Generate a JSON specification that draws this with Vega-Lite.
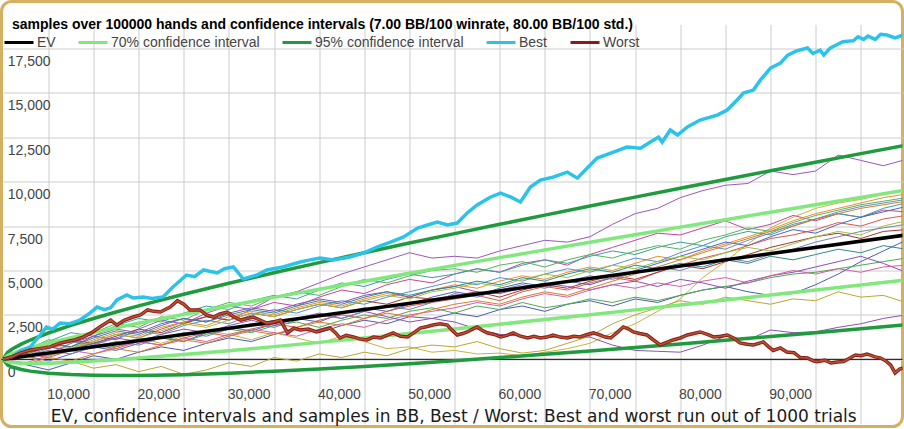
{
"$schema":"https://vega.github.io/schema/vega-lite/v6.json",
"width":901,"height":425,"autosize":"none",
"padding":{"left":1.5,"top":1.5,"right":1.5,"bottom":1.5},
"background":"white",
"config":{"view":{"stroke":"#d4b060","strokeWidth":3,"cornerRadius":10,"fill":"white"}},
"title":{"text":"samples over 100000 hands and confidence intervals (7.00 BB/100 winrate, 80.00 BB/100 std.)","anchor":"start","frame":"group","font":"Liberation Sans","fontSize":14,"fontWeight":"bold","color":"#000000","offset":0,"dx":10.5,"dy":41,"baseline":"alphabetic"},
"datasets":{
"samples":[
{"s":"L1","n":0,"v":0},{"s":"L1","n":2500,"v":500},{"s":"L1","n":5000,"v":300},{"s":"L1","n":7500,"v":900},{"s":"L1","n":10000,"v":1300},{"s":"L1","n":12500,"v":1100},{"s":"L1","n":15000,"v":1700},{"s":"L1","n":17500,"v":2200},{"s":"L1","n":20000,"v":2000},{"s":"L1","n":22500,"v":2600},{"s":"L1","n":25000,"v":3000},{"s":"L1","n":27500,"v":2800},{"s":"L1","n":30000,"v":3500},{"s":"L1","n":32500,"v":3800},{"s":"L1","n":35000,"v":4300},{"s":"L1","n":37500,"v":4800},{"s":"L1","n":40000,"v":5200},{"s":"L1","n":42500,"v":5600},{"s":"L1","n":45000,"v":6000},{"s":"L1","n":47500,"v":5700},{"s":"L1","n":50000,"v":5800},{"s":"L1","n":52500,"v":5700},{"s":"L1","n":55000,"v":6100},{"s":"L1","n":57500,"v":6400},{"s":"L1","n":60000,"v":6700},{"s":"L1","n":62500,"v":6600},{"s":"L1","n":65000,"v":6900},{"s":"L1","n":67500,"v":7600},{"s":"L1","n":70000,"v":8200},{"s":"L1","n":72500,"v":8500},{"s":"L1","n":75000,"v":9100},{"s":"L1","n":77500,"v":9500},{"s":"L1","n":80000,"v":9800},{"s":"L1","n":82500,"v":9900},{"s":"L1","n":85000,"v":10600},{"s":"L1","n":87500,"v":10400},{"s":"L1","n":90000,"v":10600},{"s":"L1","n":92500,"v":11500},{"s":"L1","n":95000,"v":11200},{"s":"L1","n":97500,"v":10900},{"s":"L1","n":100000,"v":11250},
{"s":"L2","n":0,"v":0},{"s":"L2","n":2500,"v":300},{"s":"L2","n":5000,"v":700},{"s":"L2","n":7500,"v":500},{"s":"L2","n":10000,"v":1000},{"s":"L2","n":12500,"v":1400},{"s":"L2","n":15000,"v":1200},{"s":"L2","n":17500,"v":1700},{"s":"L2","n":20000,"v":2100},{"s":"L2","n":22500,"v":2400},{"s":"L2","n":25000,"v":2200},{"s":"L2","n":27500,"v":2800},{"s":"L2","n":30000,"v":3200},{"s":"L2","n":32500,"v":3000},{"s":"L2","n":35000,"v":3500},{"s":"L2","n":37500,"v":3900},{"s":"L2","n":40000,"v":3700},{"s":"L2","n":42500,"v":4200},{"s":"L2","n":45000,"v":4500},{"s":"L2","n":47500,"v":4300},{"s":"L2","n":50000,"v":4800},{"s":"L2","n":52500,"v":5100},{"s":"L2","n":55000,"v":4900},{"s":"L2","n":57500,"v":5400},{"s":"L2","n":60000,"v":5600},{"s":"L2","n":62500,"v":5300},{"s":"L2","n":65000,"v":5900},{"s":"L2","n":67500,"v":6300},{"s":"L2","n":70000,"v":6700},{"s":"L2","n":72500,"v":7100},{"s":"L2","n":75000,"v":7000},{"s":"L2","n":77500,"v":7400},{"s":"L2","n":80000,"v":7800},{"s":"L2","n":82500,"v":7300},{"s":"L2","n":85000,"v":7600},{"s":"L2","n":87500,"v":8100},{"s":"L2","n":90000,"v":7800},{"s":"L2","n":92500,"v":8200},{"s":"L2","n":95000,"v":8000},{"s":"L2","n":97500,"v":8400},{"s":"L2","n":100000,"v":8300},
{"s":"L3","n":0,"v":0},{"s":"L3","n":2500,"v":400},{"s":"L3","n":5000,"v":200},{"s":"L3","n":7500,"v":700},{"s":"L3","n":10000,"v":1000},{"s":"L3","n":12500,"v":800},{"s":"L3","n":15000,"v":1200},{"s":"L3","n":17500,"v":900},{"s":"L3","n":20000,"v":1300},{"s":"L3","n":22500,"v":1600},{"s":"L3","n":25000,"v":1400},{"s":"L3","n":27500,"v":1100},{"s":"L3","n":30000,"v":1500},{"s":"L3","n":32500,"v":1200},{"s":"L3","n":35000,"v":900},{"s":"L3","n":37500,"v":1300},{"s":"L3","n":40000,"v":1000},{"s":"L3","n":42500,"v":600},{"s":"L3","n":45000,"v":700},{"s":"L3","n":47500,"v":400},{"s":"L3","n":50000,"v":500},{"s":"L3","n":52500,"v":300},{"s":"L3","n":55000,"v":350},{"s":"L3","n":57500,"v":200},{"s":"L3","n":60000,"v":400},{"s":"L3","n":62500,"v":600},{"s":"L3","n":65000,"v":900},{"s":"L3","n":67500,"v":1500},{"s":"L3","n":70000,"v":2000},{"s":"L3","n":72500,"v":2700},{"s":"L3","n":75000,"v":3400},{"s":"L3","n":77500,"v":4600},{"s":"L3","n":80000,"v":5500},{"s":"L3","n":82500,"v":6500},{"s":"L3","n":85000,"v":7400},{"s":"L3","n":87500,"v":8000},{"s":"L3","n":90000,"v":8500},{"s":"L3","n":92500,"v":8800},{"s":"L3","n":95000,"v":9000},{"s":"L3","n":97500,"v":9300},{"s":"L3","n":100000,"v":9500},
{"s":"L4","n":0,"v":0},{"s":"L4","n":2500,"v":400},{"s":"L4","n":5000,"v":800},{"s":"L4","n":7500,"v":600},{"s":"L4","n":10000,"v":1100},{"s":"L4","n":12500,"v":1500},{"s":"L4","n":15000,"v":1300},{"s":"L4","n":17500,"v":1800},{"s":"L4","n":20000,"v":2100},{"s":"L4","n":22500,"v":1900},{"s":"L4","n":25000,"v":2400},{"s":"L4","n":27500,"v":2700},{"s":"L4","n":30000,"v":2500},{"s":"L4","n":32500,"v":2900},{"s":"L4","n":35000,"v":3200},{"s":"L4","n":37500,"v":3000},{"s":"L4","n":40000,"v":3400},{"s":"L4","n":42500,"v":3700},{"s":"L4","n":45000,"v":3500},{"s":"L4","n":47500,"v":3900},{"s":"L4","n":50000,"v":4200},{"s":"L4","n":52500,"v":4000},{"s":"L4","n":55000,"v":4400},{"s":"L4","n":57500,"v":4700},{"s":"L4","n":60000,"v":4500},{"s":"L4","n":62500,"v":4900},{"s":"L4","n":65000,"v":5200},{"s":"L4","n":67500,"v":5000},{"s":"L4","n":70000,"v":5400},{"s":"L4","n":72500,"v":5800},{"s":"L4","n":75000,"v":5600},{"s":"L4","n":77500,"v":6100},{"s":"L4","n":80000,"v":6500},{"s":"L4","n":82500,"v":6900},{"s":"L4","n":85000,"v":7300},{"s":"L4","n":87500,"v":7800},{"s":"L4","n":90000,"v":8200},{"s":"L4","n":92500,"v":8500},{"s":"L4","n":95000,"v":8800},{"s":"L4","n":97500,"v":9100},{"s":"L4","n":100000,"v":9300},
{"s":"L5","n":0,"v":0},{"s":"L5","n":2500,"v":600},{"s":"L5","n":5000,"v":1000},{"s":"L5","n":7500,"v":1500},{"s":"L5","n":10000,"v":1300},{"s":"L5","n":12500,"v":1900},{"s":"L5","n":15000,"v":2300},{"s":"L5","n":17500,"v":2100},{"s":"L5","n":20000,"v":2600},{"s":"L5","n":22500,"v":3000},{"s":"L5","n":25000,"v":2800},{"s":"L5","n":27500,"v":3300},{"s":"L5","n":30000,"v":3600},{"s":"L5","n":32500,"v":3400},{"s":"L5","n":35000,"v":3900},{"s":"L5","n":37500,"v":4300},{"s":"L5","n":40000,"v":4100},{"s":"L5","n":42500,"v":4500},{"s":"L5","n":45000,"v":4800},{"s":"L5","n":47500,"v":4600},{"s":"L5","n":50000,"v":4800},{"s":"L5","n":52500,"v":5100},{"s":"L5","n":55000,"v":4900},{"s":"L5","n":57500,"v":5300},{"s":"L5","n":60000,"v":5600},{"s":"L5","n":62500,"v":5400},{"s":"L5","n":65000,"v":5800},{"s":"L5","n":67500,"v":6100},{"s":"L5","n":70000,"v":5900},{"s":"L5","n":72500,"v":6300},{"s":"L5","n":75000,"v":6600},{"s":"L5","n":77500,"v":6400},{"s":"L5","n":80000,"v":6900},{"s":"L5","n":82500,"v":7200},{"s":"L5","n":85000,"v":7000},{"s":"L5","n":87500,"v":7500},{"s":"L5","n":90000,"v":7900},{"s":"L5","n":92500,"v":8200},{"s":"L5","n":95000,"v":8000},{"s":"L5","n":97500,"v":8500},{"s":"L5","n":100000,"v":8800},
{"s":"L6","n":0,"v":0},{"s":"L6","n":2500,"v":200},{"s":"L6","n":5000,"v":-100},{"s":"L6","n":7500,"v":300},{"s":"L6","n":10000,"v":700},{"s":"L6","n":12500,"v":500},{"s":"L6","n":15000,"v":900},{"s":"L6","n":17500,"v":1200},{"s":"L6","n":20000,"v":1000},{"s":"L6","n":22500,"v":1500},{"s":"L6","n":25000,"v":1800},{"s":"L6","n":27500,"v":1600},{"s":"L6","n":30000,"v":2000},{"s":"L6","n":32500,"v":2300},{"s":"L6","n":35000,"v":2100},{"s":"L6","n":37500,"v":2600},{"s":"L6","n":40000,"v":2900},{"s":"L6","n":42500,"v":2700},{"s":"L6","n":45000,"v":3100},{"s":"L6","n":47500,"v":3500},{"s":"L6","n":50000,"v":3800},{"s":"L6","n":52500,"v":3600},{"s":"L6","n":55000,"v":4000},{"s":"L6","n":57500,"v":4300},{"s":"L6","n":60000,"v":4100},{"s":"L6","n":62500,"v":4400},{"s":"L6","n":65000,"v":4200},{"s":"L6","n":67500,"v":4600},{"s":"L6","n":70000,"v":5000},{"s":"L6","n":72500,"v":5400},{"s":"L6","n":75000,"v":5800},{"s":"L6","n":77500,"v":6200},{"s":"L6","n":80000,"v":6600},{"s":"L6","n":82500,"v":6400},{"s":"L6","n":85000,"v":6900},{"s":"L6","n":87500,"v":7300},{"s":"L6","n":90000,"v":7100},{"s":"L6","n":92500,"v":7600},{"s":"L6","n":95000,"v":8000},{"s":"L6","n":97500,"v":8300},{"s":"L6","n":100000,"v":8600},
{"s":"L7","n":0,"v":0},{"s":"L7","n":2500,"v":500},{"s":"L7","n":5000,"v":1100},{"s":"L7","n":7500,"v":900},{"s":"L7","n":10000,"v":1500},{"s":"L7","n":12500,"v":2000},{"s":"L7","n":15000,"v":1800},{"s":"L7","n":17500,"v":2400},{"s":"L7","n":20000,"v":2200},{"s":"L7","n":22500,"v":2800},{"s":"L7","n":25000,"v":3200},{"s":"L7","n":27500,"v":3000},{"s":"L7","n":30000,"v":3500},{"s":"L7","n":32500,"v":3800},{"s":"L7","n":35000,"v":3600},{"s":"L7","n":37500,"v":4100},{"s":"L7","n":40000,"v":4500},{"s":"L7","n":42500,"v":4300},{"s":"L7","n":45000,"v":4700},{"s":"L7","n":47500,"v":5000},{"s":"L7","n":50000,"v":5100},{"s":"L7","n":52500,"v":4900},{"s":"L7","n":55000,"v":5300},{"s":"L7","n":57500,"v":5500},{"s":"L7","n":60000,"v":5200},{"s":"L7","n":62500,"v":5600},{"s":"L7","n":65000,"v":5900},{"s":"L7","n":67500,"v":5700},{"s":"L7","n":70000,"v":6100},{"s":"L7","n":72500,"v":6400},{"s":"L7","n":75000,"v":6200},{"s":"L7","n":77500,"v":6700},{"s":"L7","n":80000,"v":7000},{"s":"L7","n":82500,"v":7400},{"s":"L7","n":85000,"v":7200},{"s":"L7","n":87500,"v":7700},{"s":"L7","n":90000,"v":8100},{"s":"L7","n":92500,"v":8400},{"s":"L7","n":95000,"v":8700},{"s":"L7","n":97500,"v":8900},{"s":"L7","n":100000,"v":9100},
{"s":"L8","n":0,"v":0},{"s":"L8","n":2500,"v":300},{"s":"L8","n":5000,"v":100},{"s":"L8","n":7500,"v":500},{"s":"L8","n":10000,"v":800},{"s":"L8","n":12500,"v":600},{"s":"L8","n":15000,"v":1000},{"s":"L8","n":17500,"v":800},{"s":"L8","n":20000,"v":1200},{"s":"L8","n":22500,"v":1500},{"s":"L8","n":25000,"v":1300},{"s":"L8","n":27500,"v":1700},{"s":"L8","n":30000,"v":2000},{"s":"L8","n":32500,"v":1800},{"s":"L8","n":35000,"v":2200},{"s":"L8","n":37500,"v":2500},{"s":"L8","n":40000,"v":2300},{"s":"L8","n":42500,"v":2700},{"s":"L8","n":45000,"v":3000},{"s":"L8","n":47500,"v":3200},{"s":"L8","n":50000,"v":3400},{"s":"L8","n":52500,"v":3600},{"s":"L8","n":55000,"v":3300},{"s":"L8","n":57500,"v":3800},{"s":"L8","n":60000,"v":4100},{"s":"L8","n":62500,"v":3900},{"s":"L8","n":65000,"v":4300},{"s":"L8","n":67500,"v":4600},{"s":"L8","n":70000,"v":4400},{"s":"L8","n":72500,"v":4900},{"s":"L8","n":75000,"v":5300},{"s":"L8","n":77500,"v":5700},{"s":"L8","n":80000,"v":6000},{"s":"L8","n":82500,"v":6400},{"s":"L8","n":85000,"v":6800},{"s":"L8","n":87500,"v":7000},{"s":"L8","n":90000,"v":7300},{"s":"L8","n":92500,"v":7700},{"s":"L8","n":95000,"v":7500},{"s":"L8","n":97500,"v":7900},{"s":"L8","n":100000,"v":8100},
{"s":"L9","n":0,"v":0},{"s":"L9","n":2500,"v":200},{"s":"L9","n":5000,"v":600},{"s":"L9","n":7500,"v":1000},{"s":"L9","n":10000,"v":800},{"s":"L9","n":12500,"v":1200},{"s":"L9","n":15000,"v":1600},{"s":"L9","n":17500,"v":1400},{"s":"L9","n":20000,"v":1900},{"s":"L9","n":22500,"v":2200},{"s":"L9","n":25000,"v":2000},{"s":"L9","n":27500,"v":2500},{"s":"L9","n":30000,"v":2800},{"s":"L9","n":32500,"v":2600},{"s":"L9","n":35000,"v":3000},{"s":"L9","n":37500,"v":3300},{"s":"L9","n":40000,"v":3100},{"s":"L9","n":42500,"v":3500},{"s":"L9","n":45000,"v":3800},{"s":"L9","n":47500,"v":4100},{"s":"L9","n":50000,"v":4400},{"s":"L9","n":52500,"v":4200},{"s":"L9","n":55000,"v":4600},{"s":"L9","n":57500,"v":4400},{"s":"L9","n":60000,"v":4800},{"s":"L9","n":62500,"v":5100},{"s":"L9","n":65000,"v":4900},{"s":"L9","n":67500,"v":5300},{"s":"L9","n":70000,"v":5700},{"s":"L9","n":72500,"v":5500},{"s":"L9","n":75000,"v":6000},{"s":"L9","n":77500,"v":6400},{"s":"L9","n":80000,"v":6200},{"s":"L9","n":82500,"v":6700},{"s":"L9","n":85000,"v":7100},{"s":"L9","n":87500,"v":7600},{"s":"L9","n":90000,"v":7900},{"s":"L9","n":92500,"v":8300},{"s":"L9","n":95000,"v":8600},{"s":"L9","n":97500,"v":8800},{"s":"L9","n":100000,"v":9000},
{"s":"L10","n":0,"v":0},{"s":"L10","n":2500,"v":300},{"s":"L10","n":5000,"v":700},{"s":"L10","n":7500,"v":1100},{"s":"L10","n":10000,"v":900},{"s":"L10","n":12500,"v":1300},{"s":"L10","n":15000,"v":1700},{"s":"L10","n":17500,"v":1500},{"s":"L10","n":20000,"v":2000},{"s":"L10","n":22500,"v":2400},{"s":"L10","n":25000,"v":2200},{"s":"L10","n":27500,"v":2600},{"s":"L10","n":30000,"v":2400},{"s":"L10","n":32500,"v":2800},{"s":"L10","n":35000,"v":3100},{"s":"L10","n":37500,"v":2900},{"s":"L10","n":40000,"v":3300},{"s":"L10","n":42500,"v":3100},{"s":"L10","n":45000,"v":3500},{"s":"L10","n":47500,"v":3400},{"s":"L10","n":50000,"v":3600},{"s":"L10","n":52500,"v":3800},{"s":"L10","n":55000,"v":3500},{"s":"L10","n":57500,"v":3900},{"s":"L10","n":60000,"v":4200},{"s":"L10","n":62500,"v":4000},{"s":"L10","n":65000,"v":4400},{"s":"L10","n":67500,"v":4700},{"s":"L10","n":70000,"v":4500},{"s":"L10","n":72500,"v":4900},{"s":"L10","n":75000,"v":5300},{"s":"L10","n":77500,"v":5100},{"s":"L10","n":80000,"v":5500},{"s":"L10","n":82500,"v":5900},{"s":"L10","n":85000,"v":6300},{"s":"L10","n":87500,"v":6600},{"s":"L10","n":90000,"v":6900},{"s":"L10","n":92500,"v":7100},{"s":"L10","n":95000,"v":6800},{"s":"L10","n":97500,"v":7200},{"s":"L10","n":100000,"v":7300},
{"s":"L11","n":0,"v":0},{"s":"L11","n":2500,"v":-300},{"s":"L11","n":5000,"v":-600},{"s":"L11","n":7500,"v":-200},{"s":"L11","n":10000,"v":200},{"s":"L11","n":12500,"v":0},{"s":"L11","n":15000,"v":400},{"s":"L11","n":17500,"v":700},{"s":"L11","n":20000,"v":500},{"s":"L11","n":22500,"v":900},{"s":"L11","n":25000,"v":1200},{"s":"L11","n":27500,"v":1000},{"s":"L11","n":30000,"v":1400},{"s":"L11","n":32500,"v":1700},{"s":"L11","n":35000,"v":1500},{"s":"L11","n":37500,"v":1900},{"s":"L11","n":40000,"v":2200},{"s":"L11","n":42500,"v":2000},{"s":"L11","n":45000,"v":2400},{"s":"L11","n":47500,"v":2300},{"s":"L11","n":50000,"v":2600},{"s":"L11","n":52500,"v":2400},{"s":"L11","n":55000,"v":2800},{"s":"L11","n":57500,"v":3000},{"s":"L11","n":60000,"v":2700},{"s":"L11","n":62500,"v":3100},{"s":"L11","n":65000,"v":3300},{"s":"L11","n":67500,"v":3000},{"s":"L11","n":70000,"v":3400},{"s":"L11","n":72500,"v":3200},{"s":"L11","n":75000,"v":3600},{"s":"L11","n":77500,"v":3900},{"s":"L11","n":80000,"v":4100},{"s":"L11","n":82500,"v":3800},{"s":"L11","n":85000,"v":3600},{"s":"L11","n":87500,"v":3700},{"s":"L11","n":90000,"v":4200},{"s":"L11","n":92500,"v":4800},{"s":"L11","n":95000,"v":5500},{"s":"L11","n":97500,"v":6100},{"s":"L11","n":100000,"v":6700},
{"s":"L12","n":0,"v":0},{"s":"L12","n":2500,"v":400},{"s":"L12","n":5000,"v":200},{"s":"L12","n":7500,"v":600},{"s":"L12","n":10000,"v":900},{"s":"L12","n":12500,"v":700},{"s":"L12","n":15000,"v":1100},{"s":"L12","n":17500,"v":1300},{"s":"L12","n":20000,"v":1000},{"s":"L12","n":22500,"v":1400},{"s":"L12","n":25000,"v":1700},{"s":"L12","n":27500,"v":1500},{"s":"L12","n":30000,"v":1900},{"s":"L12","n":32500,"v":2100},{"s":"L12","n":35000,"v":1800},{"s":"L12","n":37500,"v":2200},{"s":"L12","n":40000,"v":2500},{"s":"L12","n":42500,"v":2300},{"s":"L12","n":45000,"v":2700},{"s":"L12","n":47500,"v":2900},{"s":"L12","n":50000,"v":2600},{"s":"L12","n":52500,"v":3000},{"s":"L12","n":55000,"v":2800},{"s":"L12","n":57500,"v":3200},{"s":"L12","n":60000,"v":2900},{"s":"L12","n":62500,"v":3100},{"s":"L12","n":65000,"v":3400},{"s":"L12","n":67500,"v":3200},{"s":"L12","n":70000,"v":3500},{"s":"L12","n":72500,"v":3300},{"s":"L12","n":75000,"v":3600},{"s":"L12","n":77500,"v":3900},{"s":"L12","n":80000,"v":4100},{"s":"L12","n":82500,"v":4300},{"s":"L12","n":85000,"v":4600},{"s":"L12","n":87500,"v":4800},{"s":"L12","n":90000,"v":4900},{"s":"L12","n":92500,"v":5100},{"s":"L12","n":95000,"v":5300},{"s":"L12","n":97500,"v":5500},{"s":"L12","n":100000,"v":5700},
{"s":"L13","n":0,"v":0},{"s":"L13","n":2500,"v":500},{"s":"L13","n":5000,"v":900},{"s":"L13","n":7500,"v":700},{"s":"L13","n":10000,"v":1300},{"s":"L13","n":12500,"v":1700},{"s":"L13","n":15000,"v":1500},{"s":"L13","n":17500,"v":2000},{"s":"L13","n":20000,"v":2300},{"s":"L13","n":22500,"v":2100},{"s":"L13","n":25000,"v":2600},{"s":"L13","n":27500,"v":2900},{"s":"L13","n":30000,"v":2700},{"s":"L13","n":32500,"v":3100},{"s":"L13","n":35000,"v":3400},{"s":"L13","n":37500,"v":3200},{"s":"L13","n":40000,"v":3600},{"s":"L13","n":42500,"v":3800},{"s":"L13","n":45000,"v":3500},{"s":"L13","n":47500,"v":3900},{"s":"L13","n":50000,"v":4100},{"s":"L13","n":52500,"v":3800},{"s":"L13","n":55000,"v":3700},{"s":"L13","n":57500,"v":4000},{"s":"L13","n":60000,"v":4300},{"s":"L13","n":62500,"v":4100},{"s":"L13","n":65000,"v":3900},{"s":"L13","n":67500,"v":4200},{"s":"L13","n":70000,"v":4400},{"s":"L13","n":72500,"v":4100},{"s":"L13","n":75000,"v":4500},{"s":"L13","n":77500,"v":4300},{"s":"L13","n":80000,"v":4000},{"s":"L13","n":82500,"v":4400},{"s":"L13","n":85000,"v":4700},{"s":"L13","n":87500,"v":4900},{"s":"L13","n":90000,"v":5200},{"s":"L13","n":92500,"v":5500},{"s":"L13","n":95000,"v":5800},{"s":"L13","n":97500,"v":5400},{"s":"L13","n":100000,"v":4900},
{"s":"L14","n":0,"v":0},{"s":"L14","n":2500,"v":-200},{"s":"L14","n":5000,"v":200},{"s":"L14","n":7500,"v":500},{"s":"L14","n":10000,"v":300},{"s":"L14","n":12500,"v":700},{"s":"L14","n":15000,"v":1000},{"s":"L14","n":17500,"v":800},{"s":"L14","n":20000,"v":1200},{"s":"L14","n":22500,"v":1000},{"s":"L14","n":25000,"v":1400},{"s":"L14","n":27500,"v":1700},{"s":"L14","n":30000,"v":1500},{"s":"L14","n":32500,"v":1300},{"s":"L14","n":35000,"v":1700},{"s":"L14","n":37500,"v":2000},{"s":"L14","n":40000,"v":1800},{"s":"L14","n":42500,"v":2200},{"s":"L14","n":45000,"v":2500},{"s":"L14","n":47500,"v":2700},{"s":"L14","n":50000,"v":2900},{"s":"L14","n":52500,"v":3200},{"s":"L14","n":55000,"v":3000},{"s":"L14","n":57500,"v":3400},{"s":"L14","n":60000,"v":3700},{"s":"L14","n":62500,"v":3500},{"s":"L14","n":65000,"v":3900},{"s":"L14","n":67500,"v":4200},{"s":"L14","n":70000,"v":4000},{"s":"L14","n":72500,"v":4300},{"s":"L14","n":75000,"v":4100},{"s":"L14","n":77500,"v":4400},{"s":"L14","n":80000,"v":4600},{"s":"L14","n":82500,"v":4300},{"s":"L14","n":85000,"v":4700},{"s":"L14","n":87500,"v":5000},{"s":"L14","n":90000,"v":4800},{"s":"L14","n":92500,"v":5100},{"s":"L14","n":95000,"v":4900},{"s":"L14","n":97500,"v":5200},{"s":"L14","n":100000,"v":5300},
{"s":"L15","n":0,"v":0},{"s":"L15","n":2500,"v":200},{"s":"L15","n":5000,"v":-300},{"s":"L15","n":7500,"v":-100},{"s":"L15","n":10000,"v":-500},{"s":"L15","n":12500,"v":-300},{"s":"L15","n":15000,"v":-700},{"s":"L15","n":17500,"v":-400},{"s":"L15","n":20000,"v":-850},{"s":"L15","n":22500,"v":-600},{"s":"L15","n":25000,"v":-200},{"s":"L15","n":27500,"v":-400},{"s":"L15","n":30000,"v":100},{"s":"L15","n":32500,"v":-100},{"s":"L15","n":35000,"v":300},{"s":"L15","n":37500,"v":100},{"s":"L15","n":40000,"v":400},{"s":"L15","n":42500,"v":200},{"s":"L15","n":45000,"v":600},{"s":"L15","n":47500,"v":800},{"s":"L15","n":50000,"v":700},{"s":"L15","n":52500,"v":1000},{"s":"L15","n":55000,"v":600},{"s":"L15","n":57500,"v":350},{"s":"L15","n":60000,"v":500},{"s":"L15","n":62500,"v":900},{"s":"L15","n":65000,"v":1300},{"s":"L15","n":67500,"v":2000},{"s":"L15","n":70000,"v":2500},{"s":"L15","n":72500,"v":2900},{"s":"L15","n":75000,"v":3300},{"s":"L15","n":77500,"v":3100},{"s":"L15","n":80000,"v":3500},{"s":"L15","n":82500,"v":3300},{"s":"L15","n":85000,"v":3100},{"s":"L15","n":87500,"v":3400},{"s":"L15","n":90000,"v":3300},{"s":"L15","n":92500,"v":3800},{"s":"L15","n":95000,"v":3500},{"s":"L15","n":97500,"v":3600},{"s":"L15","n":100000,"v":3200},
{"s":"L16","n":0,"v":0},{"s":"L16","n":2500,"v":300},{"s":"L16","n":5000,"v":700},{"s":"L16","n":7500,"v":500},{"s":"L16","n":10000,"v":900},{"s":"L16","n":12500,"v":1200},{"s":"L16","n":15000,"v":1000},{"s":"L16","n":17500,"v":1400},{"s":"L16","n":20000,"v":1700},{"s":"L16","n":22500,"v":1500},{"s":"L16","n":25000,"v":1900},{"s":"L16","n":27500,"v":2200},{"s":"L16","n":30000,"v":1900},{"s":"L16","n":32500,"v":2300},{"s":"L16","n":35000,"v":2600},{"s":"L16","n":37500,"v":2300},{"s":"L16","n":40000,"v":2700},{"s":"L16","n":42500,"v":2400},{"s":"L16","n":45000,"v":2100},{"s":"L16","n":47500,"v":2300},{"s":"L16","n":50000,"v":2100},{"s":"L16","n":52500,"v":1700},{"s":"L16","n":55000,"v":1400},{"s":"L16","n":57500,"v":1300},{"s":"L16","n":60000,"v":1200},{"s":"L16","n":62500,"v":1300},{"s":"L16","n":65000,"v":1250},{"s":"L16","n":67500,"v":800},{"s":"L16","n":70000,"v":500},{"s":"L16","n":72500,"v":450},{"s":"L16","n":75000,"v":400},{"s":"L16","n":77500,"v":800},{"s":"L16","n":80000,"v":1300},{"s":"L16","n":82500,"v":1100},{"s":"L16","n":85000,"v":1650},{"s":"L16","n":87500,"v":1500},{"s":"L16","n":90000,"v":1550},{"s":"L16","n":92500,"v":1800},{"s":"L16","n":95000,"v":2000},{"s":"L16","n":97500,"v":2300},{"s":"L16","n":100000,"v":2500},
{"s":"L17","n":0,"v":0},{"s":"L17","n":2500,"v":400},{"s":"L17","n":5000,"v":200},{"s":"L17","n":7500,"v":600},{"s":"L17","n":10000,"v":1000},{"s":"L17","n":12500,"v":1400},{"s":"L17","n":15000,"v":1200},{"s":"L17","n":17500,"v":1600},{"s":"L17","n":20000,"v":2000},{"s":"L17","n":22500,"v":1800},{"s":"L17","n":25000,"v":2200},{"s":"L17","n":27500,"v":2600},{"s":"L17","n":30000,"v":2400},{"s":"L17","n":32500,"v":2800},{"s":"L17","n":35000,"v":3100},{"s":"L17","n":37500,"v":2900},{"s":"L17","n":40000,"v":3300},{"s":"L17","n":42500,"v":3600},{"s":"L17","n":45000,"v":3400},{"s":"L17","n":47500,"v":3800},{"s":"L17","n":50000,"v":4000},{"s":"L17","n":52500,"v":4300},{"s":"L17","n":55000,"v":4100},{"s":"L17","n":57500,"v":4500},{"s":"L17","n":60000,"v":4800},{"s":"L17","n":62500,"v":4600},{"s":"L17","n":65000,"v":5000},{"s":"L17","n":67500,"v":5300},{"s":"L17","n":70000,"v":5100},{"s":"L17","n":72500,"v":5500},{"s":"L17","n":75000,"v":5800},{"s":"L17","n":77500,"v":5600},{"s":"L17","n":80000,"v":6000},{"s":"L17","n":82500,"v":6300},{"s":"L17","n":85000,"v":6100},{"s":"L17","n":87500,"v":6500},{"s":"L17","n":90000,"v":6900},{"s":"L17","n":92500,"v":7200},{"s":"L17","n":95000,"v":7000},{"s":"L17","n":97500,"v":7500},{"s":"L17","n":100000,"v":7800},
{"s":"L18","n":0,"v":0},{"s":"L18","n":2500,"v":-300},{"s":"L18","n":5000,"v":100},{"s":"L18","n":7500,"v":-100},{"s":"L18","n":10000,"v":300},{"s":"L18","n":12500,"v":600},{"s":"L18","n":15000,"v":400},{"s":"L18","n":17500,"v":800},{"s":"L18","n":20000,"v":1100},{"s":"L18","n":22500,"v":900},{"s":"L18","n":25000,"v":1300},{"s":"L18","n":27500,"v":1600},{"s":"L18","n":30000,"v":1400},{"s":"L18","n":32500,"v":1800},{"s":"L18","n":35000,"v":2100},{"s":"L18","n":37500,"v":1900},{"s":"L18","n":40000,"v":2300},{"s":"L18","n":42500,"v":2600},{"s":"L18","n":45000,"v":2400},{"s":"L18","n":47500,"v":2800},{"s":"L18","n":50000,"v":3100},{"s":"L18","n":52500,"v":3300},{"s":"L18","n":55000,"v":3100},{"s":"L18","n":57500,"v":3500},{"s":"L18","n":60000,"v":3800},{"s":"L18","n":62500,"v":3600},{"s":"L18","n":65000,"v":4000},{"s":"L18","n":67500,"v":4400},{"s":"L18","n":70000,"v":4800},{"s":"L18","n":72500,"v":5200},{"s":"L18","n":75000,"v":5600},{"s":"L18","n":77500,"v":6000},{"s":"L18","n":80000,"v":6400},{"s":"L18","n":82500,"v":6800},{"s":"L18","n":85000,"v":7200},{"s":"L18","n":87500,"v":7500},{"s":"L18","n":90000,"v":7900},{"s":"L18","n":92500,"v":8200},{"s":"L18","n":95000,"v":8500},{"s":"L18","n":97500,"v":8700},{"s":"L18","n":100000,"v":8900},
{"s":"L19","n":0,"v":0},{"s":"L19","n":2500,"v":400},{"s":"L19","n":5000,"v":900},{"s":"L19","n":7500,"v":700},{"s":"L19","n":10000,"v":1200},{"s":"L19","n":12500,"v":1600},{"s":"L19","n":15000,"v":1400},{"s":"L19","n":17500,"v":1900},{"s":"L19","n":20000,"v":2300},{"s":"L19","n":22500,"v":2100},{"s":"L19","n":25000,"v":2500},{"s":"L19","n":27500,"v":2800},{"s":"L19","n":30000,"v":2600},{"s":"L19","n":32500,"v":3000},{"s":"L19","n":35000,"v":3300},{"s":"L19","n":37500,"v":3100},{"s":"L19","n":40000,"v":3500},{"s":"L19","n":42500,"v":3800},{"s":"L19","n":45000,"v":3600},{"s":"L19","n":47500,"v":3900},{"s":"L19","n":50000,"v":4100},{"s":"L19","n":52500,"v":4400},{"s":"L19","n":55000,"v":4200},{"s":"L19","n":57500,"v":4600},{"s":"L19","n":60000,"v":4400},{"s":"L19","n":62500,"v":4800},{"s":"L19","n":65000,"v":5100},{"s":"L19","n":67500,"v":4900},{"s":"L19","n":70000,"v":5300},{"s":"L19","n":72500,"v":5100},{"s":"L19","n":75000,"v":5400},{"s":"L19","n":77500,"v":5200},{"s":"L19","n":80000,"v":5600},{"s":"L19","n":82500,"v":5400},{"s":"L19","n":85000,"v":5800},{"s":"L19","n":87500,"v":5600},{"s":"L19","n":90000,"v":5900},{"s":"L19","n":92500,"v":6200},{"s":"L19","n":95000,"v":6000},{"s":"L19","n":97500,"v":6400},{"s":"L19","n":100000,"v":6200},
{"s":"L20","n":0,"v":0},{"s":"L20","n":2500,"v":200},{"s":"L20","n":5000,"v":500},{"s":"L20","n":7500,"v":300},{"s":"L20","n":10000,"v":700},{"s":"L20","n":12500,"v":1000},{"s":"L20","n":15000,"v":800},{"s":"L20","n":17500,"v":1200},{"s":"L20","n":20000,"v":1500},{"s":"L20","n":22500,"v":1300},{"s":"L20","n":25000,"v":1700},{"s":"L20","n":27500,"v":2000},{"s":"L20","n":30000,"v":1800},{"s":"L20","n":32500,"v":2200},{"s":"L20","n":35000,"v":2500},{"s":"L20","n":37500,"v":2300},{"s":"L20","n":40000,"v":2700},{"s":"L20","n":42500,"v":3000},{"s":"L20","n":45000,"v":2800},{"s":"L20","n":47500,"v":3200},{"s":"L20","n":50000,"v":3700},{"s":"L20","n":52500,"v":3500},{"s":"L20","n":55000,"v":3900},{"s":"L20","n":57500,"v":4200},{"s":"L20","n":60000,"v":4000},{"s":"L20","n":62500,"v":4400},{"s":"L20","n":65000,"v":4700},{"s":"L20","n":67500,"v":4500},{"s":"L20","n":70000,"v":4900},{"s":"L20","n":72500,"v":5200},{"s":"L20","n":75000,"v":5000},{"s":"L20","n":77500,"v":5400},{"s":"L20","n":80000,"v":5700},{"s":"L20","n":82500,"v":5500},{"s":"L20","n":85000,"v":5900},{"s":"L20","n":87500,"v":6200},{"s":"L20","n":90000,"v":6600},{"s":"L20","n":92500,"v":6900},{"s":"L20","n":95000,"v":7200},{"s":"L20","n":97500,"v":7400},{"s":"L20","n":100000,"v":7600}
],
"main":[
{"s":"95% confidence interval","k":"95u","n":0,"v":0},{"s":"95% confidence interval","k":"95u","n":500,"v":393},{"s":"95% confidence interval","k":"95u","n":1000,"v":576},{"s":"95% confidence interval","k":"95u","n":2000,"v":856},{"s":"95% confidence interval","k":"95u","n":3000,"v":1086},{"s":"95% confidence interval","k":"95u","n":5000,"v":1481},{"s":"95% confidence interval","k":"95u","n":7500,"v":1911},{"s":"95% confidence interval","k":"95u","n":10000,"v":2300},{"s":"95% confidence interval","k":"95u","n":12500,"v":2664},{"s":"95% confidence interval","k":"95u","n":15000,"v":3010},{"s":"95% confidence interval","k":"95u","n":20000,"v":3663},{"s":"95% confidence interval","k":"95u","n":25000,"v":4280},{"s":"95% confidence interval","k":"95u","n":30000,"v":4871},{"s":"95% confidence interval","k":"95u","n":35000,"v":5443},{"s":"95% confidence interval","k":"95u","n":40000,"v":6000},{"s":"95% confidence interval","k":"95u","n":45000,"v":6544},{"s":"95% confidence interval","k":"95u","n":50000,"v":7078},{"s":"95% confidence interval","k":"95u","n":55000,"v":7602},{"s":"95% confidence interval","k":"95u","n":60000,"v":8119},{"s":"95% confidence interval","k":"95u","n":65000,"v":8629},{"s":"95% confidence interval","k":"95u","n":70000,"v":9133},{"s":"95% confidence interval","k":"95u","n":75000,"v":9632},{"s":"95% confidence interval","k":"95u","n":80000,"v":10125},{"s":"95% confidence interval","k":"95u","n":85000,"v":10615},{"s":"95% confidence interval","k":"95u","n":90000,"v":11100},{"s":"95% confidence interval","k":"95u","n":95000,"v":11582},{"s":"95% confidence interval","k":"95u","n":100000,"v":12060},
{"s":"95% confidence interval","k":"95l","n":0,"v":0},{"s":"95% confidence interval","k":"95l","n":500,"v":-323},{"s":"95% confidence interval","k":"95l","n":1000,"v":-436},{"s":"95% confidence interval","k":"95l","n":2000,"v":-576},{"s":"95% confidence interval","k":"95l","n":3000,"v":-666},{"s":"95% confidence interval","k":"95l","n":5000,"v":-781},{"s":"95% confidence interval","k":"95l","n":7500,"v":-861},{"s":"95% confidence interval","k":"95l","n":10000,"v":-900},{"s":"95% confidence interval","k":"95l","n":12500,"v":-914},{"s":"95% confidence interval","k":"95l","n":15000,"v":-910},{"s":"95% confidence interval","k":"95l","n":20000,"v":-863},{"s":"95% confidence interval","k":"95l","n":25000,"v":-780},{"s":"95% confidence interval","k":"95l","n":30000,"v":-671},{"s":"95% confidence interval","k":"95l","n":35000,"v":-543},{"s":"95% confidence interval","k":"95l","n":40000,"v":-400},{"s":"95% confidence interval","k":"95l","n":45000,"v":-244},{"s":"95% confidence interval","k":"95l","n":50000,"v":-78},{"s":"95% confidence interval","k":"95l","n":55000,"v":98},{"s":"95% confidence interval","k":"95l","n":60000,"v":281},{"s":"95% confidence interval","k":"95l","n":65000,"v":471},{"s":"95% confidence interval","k":"95l","n":70000,"v":667},{"s":"95% confidence interval","k":"95l","n":75000,"v":868},{"s":"95% confidence interval","k":"95l","n":80000,"v":1075},{"s":"95% confidence interval","k":"95l","n":85000,"v":1285},{"s":"95% confidence interval","k":"95l","n":90000,"v":1500},{"s":"95% confidence interval","k":"95l","n":95000,"v":1718},{"s":"95% confidence interval","k":"95l","n":100000,"v":1940},
{"s":"70% confidence interval","k":"70u","n":0,"v":0},{"s":"70% confidence interval","k":"70u","n":500,"v":214},{"s":"70% confidence interval","k":"70u","n":1000,"v":323},{"s":"70% confidence interval","k":"70u","n":2000,"v":498},{"s":"70% confidence interval","k":"70u","n":3000,"v":648},{"s":"70% confidence interval","k":"70u","n":5000,"v":916},{"s":"70% confidence interval","k":"70u","n":7500,"v":1218},{"s":"70% confidence interval","k":"70u","n":10000,"v":1500},{"s":"70% confidence interval","k":"70u","n":12500,"v":1769},{"s":"70% confidence interval","k":"70u","n":15000,"v":2030},{"s":"70% confidence interval","k":"70u","n":20000,"v":2531},{"s":"70% confidence interval","k":"70u","n":25000,"v":3015},{"s":"70% confidence interval","k":"70u","n":30000,"v":3486},{"s":"70% confidence interval","k":"70u","n":35000,"v":3947},{"s":"70% confidence interval","k":"70u","n":40000,"v":4400},{"s":"70% confidence interval","k":"70u","n":45000,"v":4847},{"s":"70% confidence interval","k":"70u","n":50000,"v":5289},{"s":"70% confidence interval","k":"70u","n":55000,"v":5726},{"s":"70% confidence interval","k":"70u","n":60000,"v":6160},{"s":"70% confidence interval","k":"70u","n":65000,"v":6590},{"s":"70% confidence interval","k":"70u","n":70000,"v":7017},{"s":"70% confidence interval","k":"70u","n":75000,"v":7441},{"s":"70% confidence interval","k":"70u","n":80000,"v":7863},{"s":"70% confidence interval","k":"70u","n":85000,"v":8282},{"s":"70% confidence interval","k":"70u","n":90000,"v":8700},{"s":"70% confidence interval","k":"70u","n":95000,"v":9116},{"s":"70% confidence interval","k":"70u","n":100000,"v":9530},
{"s":"70% confidence interval","k":"70l","n":0,"v":0},{"s":"70% confidence interval","k":"70l","n":500,"v":-144},{"s":"70% confidence interval","k":"70l","n":1000,"v":-183},{"s":"70% confidence interval","k":"70l","n":2000,"v":-218},{"s":"70% confidence interval","k":"70l","n":3000,"v":-228},{"s":"70% confidence interval","k":"70l","n":5000,"v":-216},{"s":"70% confidence interval","k":"70l","n":7500,"v":-168},{"s":"70% confidence interval","k":"70l","n":10000,"v":-100},{"s":"70% confidence interval","k":"70l","n":12500,"v":-19},{"s":"70% confidence interval","k":"70l","n":15000,"v":70},{"s":"70% confidence interval","k":"70l","n":20000,"v":269},{"s":"70% confidence interval","k":"70l","n":25000,"v":485},{"s":"70% confidence interval","k":"70l","n":30000,"v":714},{"s":"70% confidence interval","k":"70l","n":35000,"v":953},{"s":"70% confidence interval","k":"70l","n":40000,"v":1200},{"s":"70% confidence interval","k":"70l","n":45000,"v":1453},{"s":"70% confidence interval","k":"70l","n":50000,"v":1711},{"s":"70% confidence interval","k":"70l","n":55000,"v":1974},{"s":"70% confidence interval","k":"70l","n":60000,"v":2240},{"s":"70% confidence interval","k":"70l","n":65000,"v":2510},{"s":"70% confidence interval","k":"70l","n":70000,"v":2783},{"s":"70% confidence interval","k":"70l","n":75000,"v":3059},{"s":"70% confidence interval","k":"70l","n":80000,"v":3337},{"s":"70% confidence interval","k":"70l","n":85000,"v":3618},{"s":"70% confidence interval","k":"70l","n":90000,"v":3900},{"s":"70% confidence interval","k":"70l","n":95000,"v":4184},{"s":"70% confidence interval","k":"70l","n":100000,"v":4470},
{"s":"EV","k":"ev","n":0,"v":0},{"s":"EV","k":"ev","n":100000,"v":7000},
{"s":"Best","k":"best","n":0,"v":0},{"s":"Best","k":"best","n":1000,"v":150},{"s":"Best","k":"best","n":2000,"v":500},{"s":"Best","k":"best","n":3000,"v":700},{"s":"Best","k":"best","n":4000,"v":1300},{"s":"Best","k":"best","n":4800,"v":1820},{"s":"Best","k":"best","n":5500,"v":1700},{"s":"Best","k":"best","n":6300,"v":2040},{"s":"Best","k":"best","n":7300,"v":2000},{"s":"Best","k":"best","n":8500,"v":2210},{"s":"Best","k":"best","n":9600,"v":2600},{"s":"Best","k":"best","n":10400,"v":2940},{"s":"Best","k":"best","n":11200,"v":2800},{"s":"Best","k":"best","n":11900,"v":2900},{"s":"Best","k":"best","n":12600,"v":3340},{"s":"Best","k":"best","n":13700,"v":3620},{"s":"Best","k":"best","n":14400,"v":3450},{"s":"Best","k":"best","n":15500,"v":3510},{"s":"Best","k":"best","n":16500,"v":3420},{"s":"Best","k":"best","n":17700,"v":3510},{"s":"Best","k":"best","n":18800,"v":4070},{"s":"Best","k":"best","n":20300,"v":4745},{"s":"Best","k":"best","n":21200,"v":4650},{"s":"Best","k":"best","n":22200,"v":5030},{"s":"Best","k":"best","n":23700,"v":4860},{"s":"Best","k":"best","n":24500,"v":5100},{"s":"Best","k":"best","n":25500,"v":5200},{"s":"Best","k":"best","n":26600,"v":4520},{"s":"Best","k":"best","n":28100,"v":4745},{"s":"Best","k":"best","n":29200,"v":5030},{"s":"Best","k":"best","n":31000,"v":5200},{"s":"Best","k":"best","n":32900,"v":5480},{"s":"Best","k":"best","n":34000,"v":5600},{"s":"Best","k":"best","n":35100,"v":5700},{"s":"Best","k":"best","n":36600,"v":5590},{"s":"Best","k":"best","n":38400,"v":5760},{"s":"Best","k":"best","n":39900,"v":5980},{"s":"Best","k":"best","n":41400,"v":6320},{"s":"Best","k":"best","n":42900,"v":6600},{"s":"Best","k":"best","n":44300,"v":6880},{"s":"Best","k":"best","n":45900,"v":7390},{"s":"Best","k":"best","n":47000,"v":7560},{"s":"Best","k":"best","n":48100,"v":7730},{"s":"Best","k":"best","n":49200,"v":7560},{"s":"Best","k":"best","n":50300,"v":7670},{"s":"Best","k":"best","n":51400,"v":8240},{"s":"Best","k":"best","n":52500,"v":8690},{"s":"Best","k":"best","n":54000,"v":9140},{"s":"Best","k":"best","n":55100,"v":9360},{"s":"Best","k":"best","n":56200,"v":9140},{"s":"Best","k":"best","n":57300,"v":8860},{"s":"Best","k":"best","n":58400,"v":9700},{"s":"Best","k":"best","n":59500,"v":10090},{"s":"Best","k":"best","n":60900,"v":10260},{"s":"Best","k":"best","n":62500,"v":10540},{"s":"Best","k":"best","n":63600,"v":10200},{"s":"Best","k":"best","n":64700,"v":10770},{"s":"Best","k":"best","n":65800,"v":11330},{"s":"Best","k":"best","n":67600,"v":11670},{"s":"Best","k":"best","n":69100,"v":11950},{"s":"Best","k":"best","n":70600,"v":11890},{"s":"Best","k":"best","n":71700,"v":12230},{"s":"Best","k":"best","n":72600,"v":12510},{"s":"Best","k":"best","n":73000,"v":12230},{"s":"Best","k":"best","n":73900,"v":12910},{"s":"Best","k":"best","n":74700,"v":12630},{"s":"Best","k":"best","n":75800,"v":13080},{"s":"Best","k":"best","n":77200,"v":13470},{"s":"Best","k":"best","n":79100,"v":13750},{"s":"Best","k":"best","n":80200,"v":14040},{"s":"Best","k":"best","n":81300,"v":14600},{"s":"Best","k":"best","n":82000,"v":14990},{"s":"Best","k":"best","n":83100,"v":15160},{"s":"Best","k":"best","n":83900,"v":15730},{"s":"Best","k":"best","n":85000,"v":16400},{"s":"Best","k":"best","n":86100,"v":16680},{"s":"Best","k":"best","n":86900,"v":17130},{"s":"Best","k":"best","n":87900,"v":17370},{"s":"Best","k":"best","n":89100,"v":17530},{"s":"Best","k":"best","n":89700,"v":17220},{"s":"Best","k":"best","n":90500,"v":17410},{"s":"Best","k":"best","n":90900,"v":17130},{"s":"Best","k":"best","n":91600,"v":17520},{"s":"Best","k":"best","n":93000,"v":17880},{"s":"Best","k":"best","n":94200,"v":17940},{"s":"Best","k":"best","n":94700,"v":18160},{"s":"Best","k":"best","n":95300,"v":18010},{"s":"Best","k":"best","n":95800,"v":18200},{"s":"Best","k":"best","n":96600,"v":18010},{"s":"Best","k":"best","n":97200,"v":18300},{"s":"Best","k":"best","n":97900,"v":18260},{"s":"Best","k":"best","n":98800,"v":18100},{"s":"Best","k":"best","n":99700,"v":18260},
{"s":"Worst","k":"worst","n":0,"v":0},{"s":"Worst","k":"worst","n":1000,"v":150},{"s":"Worst","k":"worst","n":1900,"v":350},{"s":"Worst","k":"worst","n":3000,"v":520},{"s":"Worst","k":"worst","n":4000,"v":600},{"s":"Worst","k":"worst","n":5200,"v":700},{"s":"Worst","k":"worst","n":6200,"v":900},{"s":"Worst","k":"worst","n":7100,"v":1000},{"s":"Worst","k":"worst","n":8000,"v":1100},{"s":"Worst","k":"worst","n":8900,"v":1260},{"s":"Worst","k":"worst","n":9800,"v":1500},{"s":"Worst","k":"worst","n":10700,"v":1820},{"s":"Worst","k":"worst","n":11900,"v":2210},{"s":"Worst","k":"worst","n":12600,"v":1930},{"s":"Worst","k":"worst","n":13400,"v":2200},{"s":"Worst","k":"worst","n":14400,"v":2380},{"s":"Worst","k":"worst","n":15200,"v":2500},{"s":"Worst","k":"worst","n":16000,"v":2780},{"s":"Worst","k":"worst","n":16700,"v":2700},{"s":"Worst","k":"worst","n":17400,"v":2660},{"s":"Worst","k":"worst","n":18500,"v":2940},{"s":"Worst","k":"worst","n":19300,"v":3300},{"s":"Worst","k":"worst","n":20000,"v":3100},{"s":"Worst","k":"worst","n":20700,"v":2780},{"s":"Worst","k":"worst","n":21800,"v":2780},{"s":"Worst","k":"worst","n":22500,"v":2500},{"s":"Worst","k":"worst","n":23300,"v":2380},{"s":"Worst","k":"worst","n":24000,"v":2550},{"s":"Worst","k":"worst","n":24800,"v":2660},{"s":"Worst","k":"worst","n":25500,"v":2400},{"s":"Worst","k":"worst","n":26300,"v":2210},{"s":"Worst","k":"worst","n":27000,"v":2300},{"s":"Worst","k":"worst","n":27700,"v":2380},{"s":"Worst","k":"worst","n":28500,"v":2200},{"s":"Worst","k":"worst","n":29200,"v":2040},{"s":"Worst","k":"worst","n":30000,"v":2100},{"s":"Worst","k":"worst","n":30700,"v":2210},{"s":"Worst","k":"worst","n":31500,"v":1490},{"s":"Worst","k":"worst","n":32200,"v":1750},{"s":"Worst","k":"worst","n":32900,"v":1650},{"s":"Worst","k":"worst","n":33800,"v":1700},{"s":"Worst","k":"worst","n":34700,"v":1540},{"s":"Worst","k":"worst","n":35400,"v":1650},{"s":"Worst","k":"worst","n":36200,"v":1760},{"s":"Worst","k":"worst","n":36800,"v":1500},{"s":"Worst","k":"worst","n":37300,"v":1200},{"s":"Worst","k":"worst","n":38000,"v":1350},{"s":"Worst","k":"worst","n":38800,"v":1260},{"s":"Worst","k":"worst","n":39500,"v":1150},{"s":"Worst","k":"worst","n":40300,"v":1090},{"s":"Worst","k":"worst","n":41000,"v":1250},{"s":"Worst","k":"worst","n":41800,"v":1200},{"s":"Worst","k":"worst","n":42500,"v":1350},{"s":"Worst","k":"worst","n":43200,"v":1490},{"s":"Worst","k":"worst","n":44000,"v":1300},{"s":"Worst","k":"worst","n":44800,"v":1260},{"s":"Worst","k":"worst","n":45500,"v":1500},{"s":"Worst","k":"worst","n":46200,"v":1760},{"s":"Worst","k":"worst","n":47000,"v":1850},{"s":"Worst","k":"worst","n":47600,"v":1930},{"s":"Worst","k":"worst","n":48400,"v":2000},{"s":"Worst","k":"worst","n":49200,"v":1930},{"s":"Worst","k":"worst","n":49800,"v":1600},{"s":"Worst","k":"worst","n":50300,"v":1370},{"s":"Worst","k":"worst","n":50900,"v":1450},{"s":"Worst","k":"worst","n":51400,"v":1540},{"s":"Worst","k":"worst","n":52000,"v":1700},{"s":"Worst","k":"worst","n":52500,"v":1820},{"s":"Worst","k":"worst","n":53000,"v":1650},{"s":"Worst","k":"worst","n":53600,"v":1490},{"s":"Worst","k":"worst","n":54400,"v":1400},{"s":"Worst","k":"worst","n":55100,"v":1260},{"s":"Worst","k":"worst","n":55800,"v":1350},{"s":"Worst","k":"worst","n":56500,"v":1490},{"s":"Worst","k":"worst","n":57300,"v":1300},{"s":"Worst","k":"worst","n":58100,"v":1200},{"s":"Worst","k":"worst","n":58800,"v":1300},{"s":"Worst","k":"worst","n":59500,"v":1200},{"s":"Worst","k":"worst","n":60200,"v":1250},{"s":"Worst","k":"worst","n":60900,"v":1370},{"s":"Worst","k":"worst","n":61700,"v":1250},{"s":"Worst","k":"worst","n":62500,"v":1200},{"s":"Worst","k":"worst","n":63200,"v":1300},{"s":"Worst","k":"worst","n":63900,"v":1260},{"s":"Worst","k":"worst","n":64700,"v":1400},{"s":"Worst","k":"worst","n":65400,"v":1490},{"s":"Worst","k":"worst","n":66100,"v":1370},{"s":"Worst","k":"worst","n":66700,"v":1250},{"s":"Worst","k":"worst","n":67300,"v":1200},{"s":"Worst","k":"worst","n":68000,"v":1500},{"s":"Worst","k":"worst","n":68700,"v":1820},{"s":"Worst","k":"worst","n":69300,"v":1700},{"s":"Worst","k":"worst","n":69800,"v":1540},{"s":"Worst","k":"worst","n":70500,"v":1450},{"s":"Worst","k":"worst","n":71300,"v":1370},{"s":"Worst","k":"worst","n":72000,"v":1100},{"s":"Worst","k":"worst","n":72800,"v":810},{"s":"Worst","k":"worst","n":73500,"v":950},{"s":"Worst","k":"worst","n":74200,"v":1090},{"s":"Worst","k":"worst","n":75000,"v":1200},{"s":"Worst","k":"worst","n":75800,"v":1370},{"s":"Worst","k":"worst","n":76500,"v":1450},{"s":"Worst","k":"worst","n":77200,"v":1540},{"s":"Worst","k":"worst","n":78000,"v":1400},{"s":"Worst","k":"worst","n":78700,"v":1260},{"s":"Worst","k":"worst","n":79500,"v":1300},{"s":"Worst","k":"worst","n":80200,"v":1370},{"s":"Worst","k":"worst","n":80900,"v":1200},{"s":"Worst","k":"worst","n":81600,"v":920},{"s":"Worst","k":"worst","n":82400,"v":850},{"s":"Worst","k":"worst","n":83100,"v":810},{"s":"Worst","k":"worst","n":83700,"v":900},{"s":"Worst","k":"worst","n":84200,"v":980},{"s":"Worst","k":"worst","n":84800,"v":700},{"s":"Worst","k":"worst","n":85300,"v":500},{"s":"Worst","k":"worst","n":86100,"v":640},{"s":"Worst","k":"worst","n":86800,"v":410},{"s":"Worst","k":"worst","n":87600,"v":370},{"s":"Worst","k":"worst","n":88300,"v":100},{"s":"Worst","k":"worst","n":89100,"v":70},{"s":"Worst","k":"worst","n":89800,"v":-100},{"s":"Worst","k":"worst","n":90200,"v":-130},{"s":"Worst","k":"worst","n":91000,"v":-50},{"s":"Worst","k":"worst","n":91700,"v":-210},{"s":"Worst","k":"worst","n":92400,"v":-150},{"s":"Worst","k":"worst","n":93100,"v":-130},{"s":"Worst","k":"worst","n":93700,"v":50},{"s":"Worst","k":"worst","n":94400,"v":240},{"s":"Worst","k":"worst","n":95000,"v":200},{"s":"Worst","k":"worst","n":95700,"v":300},{"s":"Worst","k":"worst","n":96500,"v":150},{"s":"Worst","k":"worst","n":97200,"v":70},{"s":"Worst","k":"worst","n":97800,"v":-100},{"s":"Worst","k":"worst","n":98300,"v":-320},{"s":"Worst","k":"worst","n":98800,"v":-770},{"s":"Worst","k":"worst","n":99300,"v":-550},{"s":"Worst","k":"worst","n":99700,"v":-490}
]},
"encoding":{
"x":{"field":"n","type":"quantitative","scale":{"domain":[0,99700],"range":[1.7,901.7],"nice":false,"zero":false},
 "axis":{"values":[5000,10000,15000,20000,25000,30000,35000,40000,45000,50000,55000,60000,65000,70000,75000,80000,85000,90000,95000],
 "grid":true,"gridColor":"#cccccc","gridWidth":1,"domain":false,"ticks":false,"tickSize":0,
 "labelExpr":"datum.value % 10000 == 0 ? datum.label : ''","labelAlign":"right","labelBaseline":"alphabetic","labelPadding":-28.5,"labelOffset":-4,
 "labelFont":"Liberation Sans","labelFontSize":14,"labelColor":"#444444","labelFlush":false,"labelOverlap":false,"labelBound":false,
 "title":"EV, confidence intervals and samples in BB, Best / Worst: Best and worst run out of 1000 trials",
 "titleFont":"DejaVu Sans","titleFontSize":17,"titleFontWeight":"normal","titleColor":"#1a1a1a","titleY":-5.5,"titleBaseline":"alphabetic","titlePadding":0}},
"y":{"field":"v","type":"quantitative","scale":{"domain":[-2500,20000],"range":[402.2,2.6],"nice":false,"zero":false},
 "axis":{"values":[0,2500,5000,7500,10000,12500,15000,17500],
 "grid":true,"gridColor":"#cccccc","gridWidth":1,"domain":false,"ticks":false,"tickSize":0,
 "labelAlign":"left","labelBaseline":"alphabetic","labelPadding":-5.8,"labelOffset":17,
 "labelFont":"Liberation Sans","labelFontSize":14,"labelColor":"#444444","labelFlush":false,"labelOverlap":false,"labelBound":false,"title":null}}
},
"layer":[
{"data":{"values":[{"v":0}]},"mark":{"type":"rule","color":"#000000","strokeWidth":1},"encoding":{"x":null,"y":{"field":"v","type":"quantitative"}}},
{"data":{"name":"samples"},"mark":{"type":"line","strokeWidth":1,"clip":true},
 "encoding":{"stroke":{"field":"s","type":"nominal","legend":null,
  "scale":{"domain":["L1","L2","L3","L4","L5","L6","L7","L8","L9","L10","L11","L12","L13","L14","L15","L16","L17","L18","L19","L20"],
  "range":["#9b59b6","#c0489c","#c8b43c","#e8902e","#3aa0a0","#4b63c2","#58b358","#d9584c","#5b90c8","#a33636","#4a5cb5","#4caa4c","#8a4fb5","#d35fa3","#b8a832","#8c52b0","#9cc23c","#d57f2a","#2e8b8b","#7a7fb0"]}}}},
{"data":{"name":"main"},"mark":{"type":"line","strokeWidth":3.5,"clip":true},
 "encoding":{"color":{"field":"s","type":"nominal",
  "scale":{"domain":["EV","70% confidence interval","95% confidence interval","Best","Worst"],"range":["#000000","#80e87c","#1f9a3d","#2cc3ea","#8b1a1a"]},
  "legend":{"orient":"none","legendX":1.5,"legendY":25,"direction":"horizontal","title":null,"symbolType":"stroke","symbolSize":841,"symbolStrokeWidth":3,"labelFont":"Liberation Sans","labelFontSize":14,"labelColor":"#444444","labelOffset":2,"columnPadding":16,"padding":0,"labelLimit":400}},
  "detail":{"field":"k","type":"nominal"}}},
{"data":{"name":"main"},"transform":[{"filter":"datum.s == 'Worst'"}],"mark":{"type":"line","strokeWidth":1.6,"color":"#b4532c","clip":true},"encoding":{}}
]
}
